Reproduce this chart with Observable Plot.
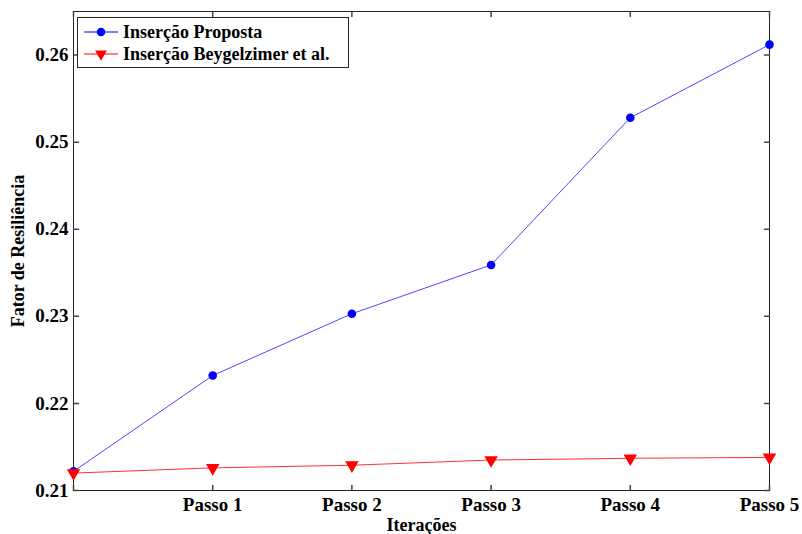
<!DOCTYPE html>
<html><head><meta charset="utf-8">
<script src="https://cdn.jsdelivr.net/npm/d3@7"></script>
<script src="https://cdn.jsdelivr.net/npm/@observablehq/plot@0.6"></script>
<style>body{margin:0;background:#fff}#c{position:relative;width:802px;height:534px}</style>
</head><body><div id="c"></div>
<script>
const steps = [0, 1, 2, 3, 4, 5];
const tickLabels = ["", "Passo 1", "Passo 2", "Passo 3", "Passo 4", "Passo 5"];
const proposta = [0.2122, 0.2232, 0.2303, 0.2359, 0.2528, 0.2612];
const beygelzimer = [0.2120, 0.2126, 0.2129, 0.2135, 0.2137, 0.2138];
const yTicks = [0.21, 0.22, 0.23, 0.24, 0.25, 0.26];
const seriesNames = ["Inserção Proposta", "Inserção Beygelzimer et al."];

const A = steps.map((s, i) => ({x: s, y: proposta[i]}));
const B = steps.map((s, i) => ({x: s, y: beygelzimer[i]}));
const font = "'Liberation Serif', 'Times New Roman', serif";
const yDom = [0.21, 0.265];
const FS = 18, TFS = 19;
const tickShape = {draw(ctx, l) { ctx.moveTo(0, 0); ctx.lineTo(0, -l); }};

const plot = Plot.plot({
  width: 802, height: 534,
  marginLeft: 73, marginRight: 33, marginTop: 11, marginBottom: 44,
  style: {fontFamily: font, fontSize: FS + "px", fontWeight: "bold", background: "#fff", color: "#000"},
  x: {domain: [0, 5], label: null},
  y: {domain: yDom, label: null},
  marks: [
    Plot.frame({stroke: "#222", strokeWidth: 1}),
    Plot.vector(steps, {x: d => d, y: () => yDom[0], length: 5, rotate: 0, anchor: "start", shape: tickShape, stroke: "#444"}),
    Plot.vector(steps, {x: d => d, y: () => yDom[1], length: 5, rotate: 180, anchor: "start", shape: tickShape, stroke: "#444"}),
    Plot.vector(yTicks, {x: () => 0, y: d => d, length: 5, rotate: 90, anchor: "start", shape: tickShape, stroke: "#444"}),
    Plot.vector(yTicks, {x: () => 5, y: d => d, length: 5, rotate: -90, anchor: "start", shape: tickShape, stroke: "#444"}),
    Plot.axisX({ticks: steps.slice(1), tickSize: 0, tickPadding: 7, tickFormat: d => tickLabels[d], fontSize: TFS, fontWeight: "bold", label: null}),
    Plot.axisY({ticks: yTicks, tickSize: 0, tickPadding: 5, tickFormat: d => d.toFixed(2), fontSize: TFS, fontWeight: "bold", label: null}),
    Plot.line(A, {x: "x", y: "y", stroke: "#0000ff", strokeWidth: 0.9, strokeOpacity: 0.8}),
    Plot.dot(A, {x: "x", y: "y", r: 4.3, fill: "#0000ff", stroke: "none"}),
    Plot.line(B, {x: "x", y: "y", stroke: "#ff0000", strokeWidth: 0.9, strokeOpacity: 0.9}),
    Plot.dot(B, {x: "x", y: "y", symbol: "triangle", r: 5, rotate: 180, fill: "#ff0000", stroke: "none"}),
    Plot.text(["Iterações"], {frameAnchor: "bottom", dy: 40, fontSize: FS, fontWeight: "bold", lineAnchor: "bottom"}),
    Plot.text(["Fator de Resiliência"], {frameAnchor: "left", dx: -55, rotate: -90, textAnchor: "middle", fontSize: FS, fontWeight: "bold"})
  ]
});
document.getElementById("c").appendChild(plot);

// legend
const svg = d3.select(plot);
const g = svg.append("g").attr("font-family", font).attr("font-size", FS).attr("font-weight", "bold").attr("text-anchor", "start");
g.append("rect").attr("x", 77.5).attr("y", 17.5).attr("width", 271).attr("height", 50)
  .attr("fill", "#fff").attr("stroke", "#222");
const colors = ["#0000ff", "#ff0000"];
seriesNames.forEach((name, i) => {
  const cy = 32 + i * 22;
  g.append("line").attr("x1", 84).attr("x2", 118).attr("y1", cy).attr("y2", cy).attr("stroke", colors[i]).attr("stroke-width", 1);
  if (i === 0) g.append("circle").attr("cx", 101).attr("cy", cy).attr("r", 4.3).attr("fill", colors[i]);
  else g.append("path").attr("d", d3.symbol(d3.symbolTriangle, 60)()).attr("transform", `translate(101,${cy}) rotate(180)`).attr("fill", colors[i]);
  g.append("text").attr("x", 123).attr("y", cy).attr("dy", "0.35em").text(name);
});
</script></body></html>
